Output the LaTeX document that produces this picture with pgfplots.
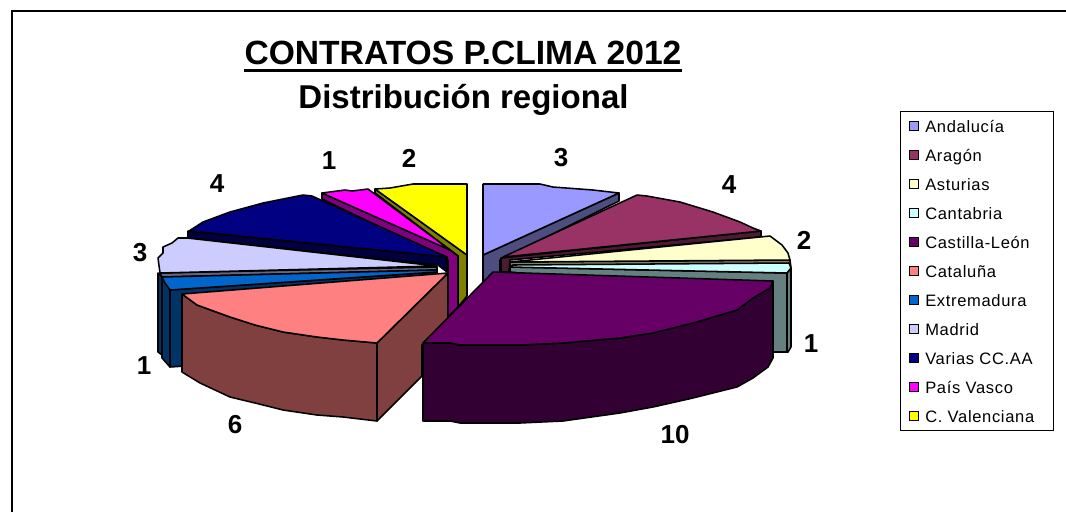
\documentclass[border=0pt]{standalone}
\usepackage{fontspec}
\usepackage{pgfplots}
\pgfplotsset{compat=1.18}
\setmainfont{Liberation Sans}
\newfontfamily\legfont[LetterSpace=4]{Liberation Sans}
\definecolor{cA}{HTML}{9999FF}\definecolor{dA}{HTML}{4D4D80}
\definecolor{cB}{HTML}{993366}\definecolor{dB}{HTML}{4D1A33}
\definecolor{cC}{HTML}{FFFFCC}\definecolor{dC}{HTML}{808066}
\definecolor{cD}{HTML}{CCFFFF}\definecolor{dD}{HTML}{668080}
\definecolor{cE}{HTML}{660066}\definecolor{dE}{HTML}{330033}
\definecolor{cF}{HTML}{FF8080}\definecolor{dF}{HTML}{804040}
\definecolor{cG}{HTML}{0066CC}\definecolor{dG}{HTML}{003366}
\definecolor{cH}{HTML}{CCCCFF}\definecolor{dH}{HTML}{666680}
\definecolor{cI}{HTML}{000080}\definecolor{dI}{HTML}{000040}
\definecolor{cJ}{HTML}{FF00FF}\definecolor{dJ}{HTML}{800080}
\definecolor{cK}{HTML}{FFFF00}\definecolor{dK}{HTML}{808000}
\pgfplotsset{
  swatch/.style={legend image code/.code={\draw[fill=#1,draw=black,line width=1pt] (0pt,-3.4pt) rectangle (6.8pt,3.4pt);}},
  face/.style={fill=#1,draw=black,line width=1.15pt,line join=round,forget plot},
}
\newcommand{\lab}[1]{\makebox[88pt][l]{#1}}
\begin{document}
\begin{tikzpicture}
\path[use as bounding box] (0,0) rectangle (799.5pt,384pt);
\begin{axis}[
  at={(0,0)},anchor=south west,
  scale only axis,width=799.5pt,height=384pt,
  xmin=0,xmax=1066,ymin=0,ymax=512,y dir=reverse,
  hide axis,no markers,
  legend style={at={(900/1066,1-111/512)},anchor=north west,draw=black,line width=0.8pt,
    inner xsep=6.25pt,inner ysep=5pt,font=\legfont\fontsize{12.4}{14}\selectfont,
    nodes={text height=10.5pt,text depth=1pt,inner ysep=0pt},
    /tikz/row sep=10.25pt,/tikz/column sep=2.5pt},
  legend cell align=left,
]
\addlegendimage{swatch=cA}\addlegendentry{\lab{Andalucía}}
\addlegendimage{swatch=cB}\addlegendentry{\lab{Aragón}}
\addlegendimage{swatch=cC}\addlegendentry{\lab{Asturias}}
\addlegendimage{swatch=cD}\addlegendentry{\lab{Cantabria}}
\addlegendimage{swatch=cE}\addlegendentry{\lab{Castilla-León}}
\addlegendimage{swatch=cF}\addlegendentry{\lab{Cataluña}}
\addlegendimage{swatch=cG}\addlegendentry{\lab{Extremadura}}
\addlegendimage{swatch=cH}\addlegendentry{\lab{Madrid}}
\addlegendimage{swatch=cI}\addlegendentry{\lab{Varias CC.AA}}
\addlegendimage{swatch=cJ}\addlegendentry{\lab{País Vasco}}
\addlegendimage{swatch=cK}\addlegendentry{\lab{C. Valenciana}}
% frame
\addplot[draw=black,line width=0.9pt,forget plot] coordinates {(12,512)(12,11)(1066,11)};
% Andalucia
\addplot[face=dA] coordinates {(483,255)(619,193)(619,201)(500,260)(500,272)(483,285)} --cycle;
\addplot[face=cA] coordinates {(483,184)(540,184)(553,187)(593,190)(619,193)(483,255)} --cycle;
% Aragon
\addplot[face=dB] coordinates {(761,231)(761,237)(510,260)(509,272)(501,272)(501,258)} --cycle;
\addplot[face=cB] coordinates {(503,257)(637,195)(647,196)(680,202)(713,212)(740,222)(753,228)(761,231)} --cycle;
% Valenciana
\addplot[face=dK] coordinates {(375,189)(375,193)(458,256)(458,307)(467,296)(467,255)} --cycle;
\addplot[face=cK] coordinates {(467,184)(413,184)(390,188)(375,189)(467,255)} --cycle;
% Pais Vasco
\addplot[face=dJ] coordinates {(322,193)(322,199)(448,260)(448,317)(458,307)(458,256)(450,250)} --cycle;
\addplot[face=cJ] coordinates {(322,193)(345,190)(352,191)(368,189)(450,250)} --cycle;
% Varias
\addplot[face=dI] coordinates {(188,231)(188,238)(438,265)(447,272)(447,257)} --cycle;
\addplot[face=cI] coordinates {(189,231)(203,222)(230,212)(263,203)(303,195)(312,196)(447,257)} --cycle;
% Madrid
\addplot[face=dG] coordinates {(158,273)(158,352)(162,355)(162,277)} --cycle;
\addplot[face=dH] coordinates {(160,273)(437,267)(437,270)(162,277)} --cycle;
\addplot[face=cH] coordinates {(160,273)(158,258)(163,253)(163,247)(172,243)(178,238)(187,238)(437,266)} --cycle;
% Asturias
\addplot[face=dC] coordinates {(510,262)(790,260)(791,268)(510,266)} --cycle;
\addplot[face=cC] coordinates {(510,262)(770,236)(782,245)(788,253)(790,260)} --cycle;
% Cantabria
\addplot[face=dD] coordinates {(787,273)(791,268)(791,347)(788,352)(787,352)} --cycle;
\addplot[face=dD] coordinates {(510,267)(787,273)(787,352)(773,352)(773,300)(510,272)} --cycle;
\addplot[face=cD] coordinates {(513,265)(789,263)(791,268)(787,273)(510,267)} --cycle;
% Extremadura
\addplot[face=dG] coordinates {(162,278)(170,290)(170,367)(162,358)} --cycle;
\addplot[face=dG] coordinates {(170,290)(437,272)(437,350)(170,367)} --cycle;
\addplot[face=cG] coordinates {(162,277)(165,283)(170,290)(437,272)(437,270)} --cycle;
% Cataluna
\addplot[face=dF] coordinates {(182,294)(197,305)(230,317)(255,325)(283,332)(317,337)(343,340)(377,343)(377,421)(343,417)(317,415)(283,410)(255,403)(230,397)(200,383)(182,372)} --cycle;
\addplot[face=dF] coordinates {(377,343)(448,273)(448,318)(422,345)(422,376)(377,421)} --cycle;
\addplot[face=cF] coordinates {(182,294)(197,305)(230,317)(255,325)(283,332)(317,337)(343,340)(377,343)(448,273)} --cycle;
% Castilla-Leon
\addplot[face=dE] coordinates {(423,343)(450,343)(460,345)(520,345)(563,343)(620,338)(653,333)(693,323)(737,310)(753,298)(770,288)(773,281)(773,358)(768,367)(753,378)(737,387)(693,398)(653,407)(620,413)(563,421)(520,423)(460,423)(450,421)(423,421)} --cycle;
\addplot[face=cE] coordinates {(493,272)(773,281)(770,288)(753,298)(737,310)(693,323)(653,333)(620,338)(563,343)(520,345)(460,345)(450,343)(423,343)} --cycle;
% title underline
\addplot[draw=black,line width=2.2pt,forget plot] coordinates {(244,70.5)(682,70.5)};
\node[font=\bfseries\fontsize{25.2}{28}\selectfont] at (axis cs:463,53) {CONTRATOS P.CLIMA 2012};
\node[font=\bfseries\fontsize{24.75}{28}\selectfont] at (axis cs:463.5,100) {Distribución regional};
\tikzset{dl/.style={font=\bfseries\fontsize{19.5}{22}\selectfont,inner sep=0pt}}
\node[dl] at (axis cs:561,158) {3};
\node[dl] at (axis cs:729,185) {4};
\node[dl] at (axis cs:804,240) {2};
\node[dl] at (axis cs:811,344) {1};
\node[dl] at (axis cs:675,435) {10};
\node[dl] at (axis cs:235,425) {6};
\node[dl] at (axis cs:144,366) {1};
\node[dl] at (axis cs:140,253) {3};
\node[dl] at (axis cs:217,184) {4};
\node[dl] at (axis cs:329,161) {1};
\node[dl] at (axis cs:409,158) {2};
\end{axis}
\end{tikzpicture}
\end{document}
